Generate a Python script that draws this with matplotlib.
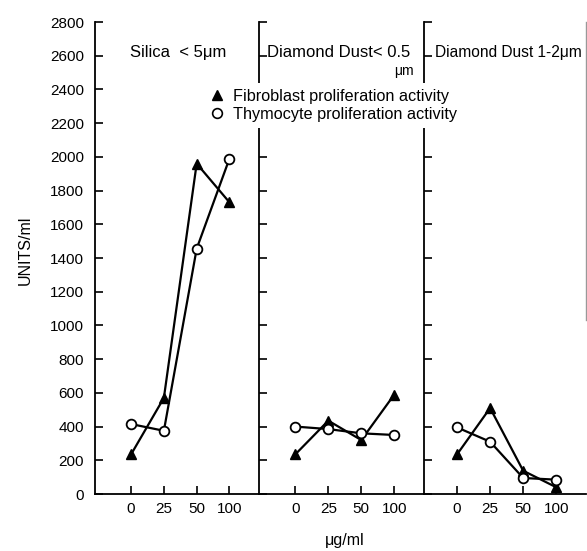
import matplotlib

matplotlib.use("Agg")

import matplotlib.pyplot as plt
from matplotlib.lines import Line2D

plt.rcParams["font.family"] = ["Liberation Sans", "DejaVu Sans"]

doses = ["0", "25", "50", "100"]
panels = ["Silica  < 5\u03bcm", "Diamond Dust< 0.5", "Diamond Dust 1-2\u03bcm"]

# fibroblast (filled triangles) and thymocyte (open circles), UNITS/ml
fibro_silica = [235, 570, 1960, 1730]
thymo_silica = [415, 375, 1455, 1990]
fibro_dd05 = [235, 435, 320, 590]
thymo_dd05 = [400, 385, 360, 350]
fibro_dd12 = [235, 510, 138, 40]
thymo_dd12 = [395, 310, 95, 85]

fibro = [fibro_silica, fibro_dd05, fibro_dd12]
thymo = [thymo_silica, thymo_dd05, thymo_dd12]

W, H = 587, 551
fig = plt.figure(figsize=(W / 100, H / 100), dpi=100)

left_px = [95, 259, 424]
right_px = [259, 424, 586]
xlims = [(-1.1, 3.9), (-1.1, 3.9), (-1.0, 3.9)]
bottom = (H - 494) / H
height = (494 - 22) / H

axes = []
for i in range(3):
    ax = fig.add_axes([left_px[i] / W, bottom, (right_px[i] - left_px[i]) / W, height])
    axes.append(ax)
    x = list(range(len(doses)))
    ax.plot(x, fibro[i], color="black", lw=1.6, marker="^", ms=7,
            mfc="black", mec="black", zorder=3, clip_on=False)
    ax.plot(x, thymo[i], color="black", lw=1.6, marker="o", ms=7,
            mfc="white", mec="black", mew=1.3, zorder=4, clip_on=False)

    ax.set_xlim(*xlims[i])
    ax.set_ylim(0, 2800)
    ax.set_xticks(x)
    ax.set_xticklabels(doses)
    ax.set_yticks(range(0, 2801, 200))
    ax.tick_params(axis="both", direction="in", length=6, width=1.2,
                   color="black", labelsize=11)
    ax.tick_params(axis="x", pad=6)
    ax.tick_params(axis="y", pad=8)
    if i > 0:
        ax.set_yticklabels([])
    for side in ["top", "right"]:
        ax.spines[side].set_visible(False)
    for side in ["left", "bottom"]:
        ax.spines[side].set_linewidth(1.3)
    ax.patch.set_alpha(0)

# panel titles
axes[0].text(1.45, 2620, panels[0], ha="center", va="center", fontsize=12)
axes[1].text(-0.85, 2620, panels[1], ha="left", va="center", fontsize=12)
axes[1].text(3.6, 2510, "\u03bcm", ha="right", va="center", fontsize=10)
axes[2].text(-0.68, 2620, panels[2], ha="left", va="center", fontsize=11.2,
             clip_on=False)

# cut-off right edge of the next panel
axes[2].spines["right"].set_visible(True)
axes[2].spines["right"].set_bounds(1030, 2800)
axes[2].spines["right"].set_color("#999999")
axes[2].spines["right"].set_linewidth(1.0)

handles = [
    Line2D([], [], ls="none", marker="^", ms=7, mfc="black", mec="black"),
    Line2D([], [], ls="none", marker="o", ms=7, mfc="white", mec="black", mew=1.2),
]
labels = ["Fibroblast proliferation activity", "Thymocyte proliferation activity"]
leg = fig.legend(handles, labels, loc="upper left",
                 bbox_to_anchor=(205 / W, 1 - 83 / H), frameon=True,
                 facecolor="white", edgecolor="none", framealpha=1,
                 fontsize=11.7, handlelength=0.8, handletextpad=0.6,
                 labelspacing=0.2, borderpad=0.35, borderaxespad=0)

fig.text(25 / W, 1 - 250 / H, "UNITS/ml", rotation=90, ha="center",
         va="center", fontsize=11.5)
fig.text(345 / W, 1 - 540 / H, "\u03bcg/ml", ha="center", va="center",
         fontsize=11.5)

fig.savefig("out.png", dpi=100)
